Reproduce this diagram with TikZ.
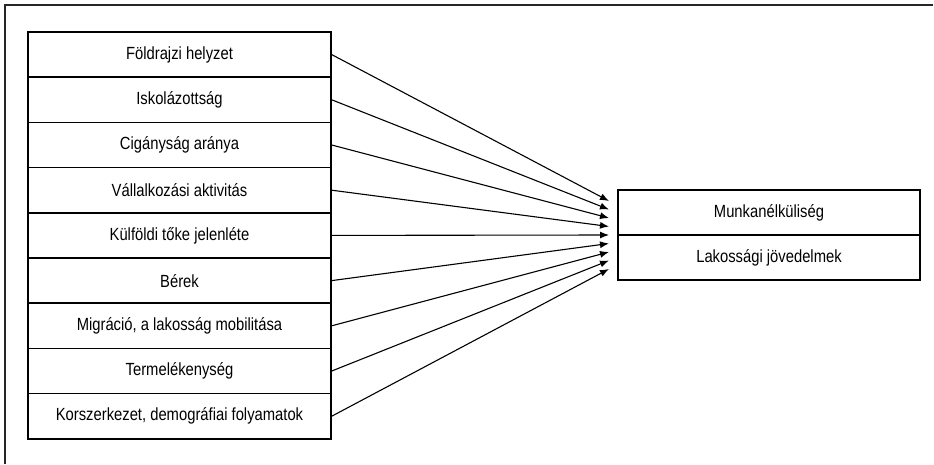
\documentclass[tikz,border=0pt]{standalone}
\usepackage{fontspec}
\setmainfont{Liberation Sans}[FakeStretch=0.84]
\usetikzlibrary{positioning}
\usetikzlibrary{arrows, arrows.meta, calc}

\begin{document}
\begin{tikzpicture}[x=1pt, y=-1pt, >={Latex[length=9pt, width=7pt]}, font=\fontsize{17.6}{19}\selectfont, every node/.style={transform shape}]%

            \tikzstyle{factor} = [ rectangle, draw = black!100, line width = 1.5pt, fill = white, minimum width = 303pt, minimum height = 45.2pt, inner sep = 0pt]
            \tikzstyle{effect} = [ rectangle, draw = black!100, line width = 1.5pt, fill = white, minimum width = 302pt, minimum height = 45pt, inner sep = 0pt]
            \tikzstyle{post} = [ ->, line width = 1.1pt, shorten >= 0pt]
            \tikzstyle{frame} = [ line width = 1.6pt, draw = black!85]
        %%
            \useasboundingbox (0,0) rectangle (934,464);
            \draw[frame] (5,464) -- (5,5) -- (933,5);
        %%
            \begin{scope}[node distance = 45.2pt]%
                %% Factors
                \node [factor] (f_geo) at (179.5,54.6) {Földrajzi helyzet};
                \node [factor] (f_edu) [ below of = f_geo] {Iskolázottság};
                \node [factor] (f_rom) [ below of = f_edu] {Cigányság aránya};
                \node [factor] (f_ent) [ below of = f_rom] {Vállalkozási aktivitás};
                \node [factor] (f_fdi) [ below of = f_ent] {Külföldi tőke jelenléte};
                \node [factor] (f_wag) [ below of = f_fdi] {Bérek};
                \node [factor] (f_mig) [ below of = f_wag] {Migráció, a lakosság mobilitása};
                \node [factor] (f_pro) [ below of = f_mig] {Termelékenység};
                \node [factor] (f_age) [ below of = f_pro] {Korszerkezet, demográfiai folyamatok};
            \end{scope}%

            \begin{scope}[node distance = 45pt]%
                %% Outcomes
                \node [effect] (o_une) at (769,212.5) {Munkanélküliség};
                \node [effect] (o_inc) [ below of = o_une] {Lakossági jövedelmek};
            \end{scope}%

                %% Arrow ends
                \coordinate (t_1) at (609,201);
                \coordinate (t_2) at (609,209.5);
                \coordinate (t_3) at (609,218);
                \coordinate (t_4) at (609,226.5);
                \coordinate (t_5) at (609,235);
                \coordinate (t_6) at (609,243.5);
                \coordinate (t_7) at (609,252);
                \coordinate (t_8) at (609,260.5);
                \coordinate (t_9) at (609,269);

                \draw[post] (f_geo.east) -- (t_1);
                \draw[post] (f_edu.east) -- (t_2);
                \draw[post] (f_rom.east) -- (t_3);
                \draw[post] (f_ent.east) -- (t_4);
                \draw[post] (f_fdi.east) -- (t_5);
                \draw[post] (f_wag.east) -- (t_6);
                \draw[post] (f_mig.east) -- (t_7);
                \draw[post] (f_pro.east) -- (t_8);
                \draw[post] (f_age.east) -- (t_9);
        \end{tikzpicture}
\end{document}
